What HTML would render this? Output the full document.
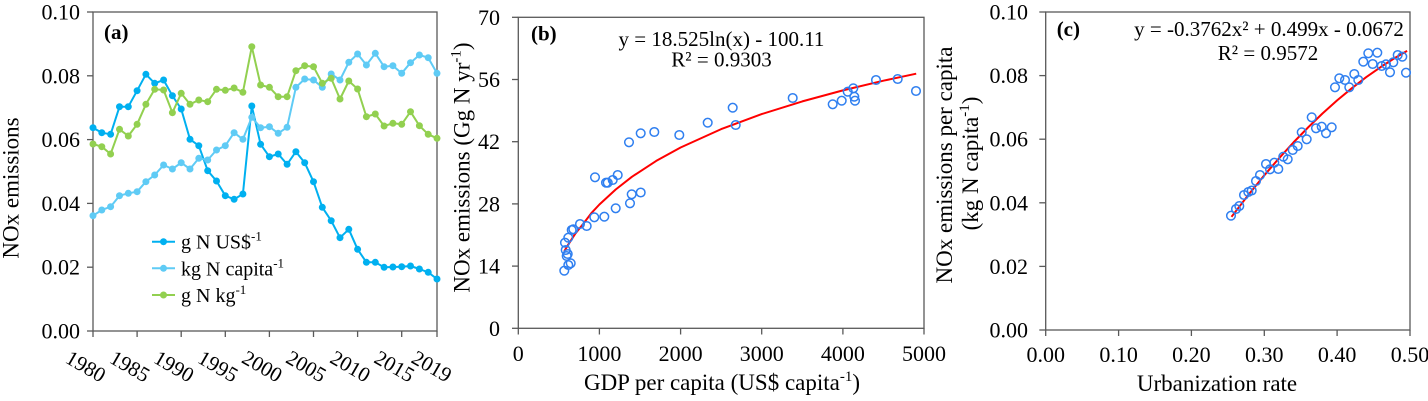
<!DOCTYPE html>
<html>
<head>
<meta charset="utf-8">
<style>
  html,body{margin:0;padding:0;background:#fff;}
  svg{display:block;}
  text{font-family:"Liberation Serif","Times New Roman",serif;fill:#000;}
</style>
</head>
<body>
<svg width="1428" height="401" viewBox="0 0 1428 401" xmlns="http://www.w3.org/2000/svg" font-family="'Liberation Serif', serif">
  <defs>
    <marker id="m1" markerWidth="10" markerHeight="10" refX="5" refY="5" markerUnits="userSpaceOnUse"><circle cx="5" cy="5" r="3.5" fill="#00B0F0"/></marker>
    <marker id="m2" markerWidth="10" markerHeight="10" refX="5" refY="5" markerUnits="userSpaceOnUse"><circle cx="5" cy="5" r="3.5" fill="#5FCBF5"/></marker>
    <marker id="m3" markerWidth="10" markerHeight="10" refX="5" refY="5" markerUnits="userSpaceOnUse"><circle cx="5" cy="5" r="3.5" fill="#92D050"/></marker>
  </defs>
  <rect width="1428" height="401" fill="#fff"/>

  <!-- ================= Panel (a) ================= -->
  <g stroke="#595959" stroke-width="1.3" fill="none">
    <rect x="93" y="12" width="344" height="319"/>
    <line x1="87" y1="12" x2="93" y2="12"/>
    <line x1="87" y1="75.8" x2="93" y2="75.8"/>
    <line x1="87" y1="139.6" x2="93" y2="139.6"/>
    <line x1="87" y1="203.4" x2="93" y2="203.4"/>
    <line x1="87" y1="267.2" x2="93" y2="267.2"/>
    <line x1="87" y1="331" x2="93" y2="331"/>
    <line x1="93" y1="331" x2="93" y2="337"/>
    <line x1="137.1" y1="331" x2="137.1" y2="337"/>
    <line x1="181.2" y1="331" x2="181.2" y2="337"/>
    <line x1="225.3" y1="331" x2="225.3" y2="337"/>
    <line x1="269.4" y1="331" x2="269.4" y2="337"/>
    <line x1="313.5" y1="331" x2="313.5" y2="337"/>
    <line x1="357.6" y1="331" x2="357.6" y2="337"/>
    <line x1="401.7" y1="331" x2="401.7" y2="337"/>
    <line x1="437" y1="331" x2="437" y2="337"/>
  </g>
  <g font-size="22" text-anchor="end">
    <text x="80" y="19.5">0.10</text>
    <text x="80" y="83.3">0.08</text>
    <text x="80" y="147.1">0.06</text>
    <text x="80" y="210.9">0.04</text>
    <text x="80" y="274.7">0.02</text>
    <text x="80" y="338.5">0.00</text>
  </g>
  <g font-size="21" text-anchor="middle">
    <text transform="translate(86,366) rotate(30)" dy="0.35em">1980</text>
    <text transform="translate(130.1,366) rotate(30)" dy="0.35em">1985</text>
    <text transform="translate(174.2,366) rotate(30)" dy="0.35em">1990</text>
    <text transform="translate(218.3,366) rotate(30)" dy="0.35em">1995</text>
    <text transform="translate(262.4,366) rotate(30)" dy="0.35em">2000</text>
    <text transform="translate(306.5,366) rotate(30)" dy="0.35em">2005</text>
    <text transform="translate(350.6,366) rotate(30)" dy="0.35em">2010</text>
    <text transform="translate(394.7,366) rotate(30)" dy="0.35em">2015</text>
    <text transform="translate(432,366) rotate(30)" dy="0.35em">2019</text>
  </g>
  <text transform="translate(18.5,188) rotate(-90)" font-size="23" text-anchor="middle">NOx emissions</text>
  <text x="104" y="39" font-size="21" font-weight="bold">(a)</text>

  <polyline fill="none" stroke="#00B0F0" stroke-width="2" stroke-linejoin="round"
    marker-start="url(#m1)" marker-mid="url(#m1)" marker-end="url(#m1)"
    points="93,127.7 101.8,132.7 110.6,134.3 119.5,106.7 128.3,106.7 137.1,90.7 145.9,74.3 154.7,83.3 163.6,80 172.4,95.7 181.2,109 190,139.3 198.8,145.7 207.7,170.7 216.5,181 225.3,195.7 234.1,199.3 242.9,194 251.8,106 260.6,144.3 269.4,156.7 278.2,154 287.1,164.3 295.9,151.7 304.7,162.7 313.5,181.7 322.3,207.3 331.2,220.7 340,237.7 348.8,229.3 357.6,249.3 366.4,262.3 375.3,262.3 384.1,267.3 392.9,267 401.7,266.7 410.5,266 419.4,269 428.2,272.3 437,279"/>
  <polyline fill="none" stroke="#5FCBF5" stroke-width="2" stroke-linejoin="round"
    marker-start="url(#m2)" marker-mid="url(#m2)" marker-end="url(#m2)"
    points="93,215.7 101.8,210 110.6,206.7 119.5,195.7 128.3,193.3 137.1,191.7 145.9,181.7 154.7,175 163.6,165 172.4,169 181.2,162.7 190,169 198.8,158.3 207.7,160 216.5,150 225.3,145.7 234.1,132.7 242.9,139.3 251.8,117.3 260.6,127.7 269.4,126.7 278.2,133.3 287.1,127.3 295.9,87.3 304.7,79 313.5,80 322.3,87.3 331.2,74 340,80 348.8,62.3 357.6,54 366.4,65 375.3,53.3 384.1,66.7 392.9,65.7 401.7,73.3 410.5,62.7 419.4,55 428.2,57.7 437,73.3"/>
  <polyline fill="none" stroke="#92D050" stroke-width="2" stroke-linejoin="round"
    marker-start="url(#m3)" marker-mid="url(#m3)" marker-end="url(#m3)"
    points="93,144 101.8,146.7 110.6,154 119.5,129.3 128.3,136 137.1,124.3 145.9,104.3 154.7,89.3 163.6,90 172.4,112.7 181.2,93.3 190,104.3 198.8,100 207.7,101.7 216.5,89.3 225.3,90.3 234.1,88 242.9,92.3 251.8,46.7 260.6,85 269.4,87.3 278.2,96.7 287.1,96.7 295.9,70.7 304.7,65.7 313.5,66.7 322.3,83.3 331.2,78.3 340,99 348.8,81 357.6,89 366.4,116.7 375.3,114 384.1,126 392.9,123.3 401.7,124.3 410.5,111.7 419.4,125.7 428.2,134.3 437,138.3"/>

  <g stroke-width="2">
    <line x1="152" y1="241.7" x2="175" y2="241.7" stroke="#00B0F0"/>
    <line x1="152" y1="268.3" x2="175" y2="268.3" stroke="#5FCBF5"/>
    <line x1="152" y1="295" x2="175" y2="295" stroke="#92D050"/>
  </g>
  <circle cx="163.5" cy="241.7" r="3.5" fill="#00B0F0"/>
  <circle cx="163.5" cy="268.3" r="3.5" fill="#5FCBF5"/>
  <circle cx="163.5" cy="295" r="3.5" fill="#92D050"/>
  <g font-size="20">
    <text x="181" y="248.7">g N US$<tspan font-size="13" dy="-8">-1</tspan></text>
    <text x="181" y="275.3">kg N capita<tspan font-size="13" dy="-8">-1</tspan></text>
    <text x="181" y="302">g N kg<tspan font-size="13" dy="-8">-1</tspan></text>
  </g>

  <!-- ================= Panel (b) ================= -->
  <g stroke="#595959" stroke-width="1.3" fill="none">
    <rect x="518.3" y="17.3" width="405.7" height="311"/>
    <line x1="512" y1="17.3" x2="518.3" y2="17.3"/>
    <line x1="512" y1="79.5" x2="518.3" y2="79.5"/>
    <line x1="512" y1="141.7" x2="518.3" y2="141.7"/>
    <line x1="512" y1="203.9" x2="518.3" y2="203.9"/>
    <line x1="512" y1="266.1" x2="518.3" y2="266.1"/>
    <line x1="512" y1="328.3" x2="518.3" y2="328.3"/>
    <line x1="518.3" y1="328.3" x2="518.3" y2="334.5"/>
    <line x1="599.4" y1="328.3" x2="599.4" y2="334.5"/>
    <line x1="680.6" y1="328.3" x2="680.6" y2="334.5"/>
    <line x1="761.7" y1="328.3" x2="761.7" y2="334.5"/>
    <line x1="842.9" y1="328.3" x2="842.9" y2="334.5"/>
    <line x1="924" y1="328.3" x2="924" y2="334.5"/>
  </g>
  <g font-size="22" text-anchor="end">
    <text x="500" y="24.8">70</text>
    <text x="500" y="87">56</text>
    <text x="500" y="149.2">42</text>
    <text x="500" y="211.4">28</text>
    <text x="500" y="273.6">14</text>
    <text x="500" y="335.8">0</text>
  </g>
  <g font-size="22" text-anchor="middle">
    <text x="518.3" y="361">0</text>
    <text x="599.4" y="361">1000</text>
    <text x="680.6" y="361">2000</text>
    <text x="761.7" y="361">3000</text>
    <text x="842.9" y="361">4000</text>
    <text x="924" y="361">5000</text>
  </g>
  <text transform="translate(469.5,167.5) rotate(-90)" font-size="23" text-anchor="middle">NOx emissions (Gg N yr<tspan font-size="15" dy="-9">-1</tspan><tspan dy="9">)</tspan></text>
  <text x="722" y="390" font-size="23" text-anchor="middle">GDP per capita (US$ capita<tspan font-size="15" dy="-9">-1</tspan><tspan dy="9">)</tspan></text>
  <text x="531" y="40.5" font-size="21" font-weight="bold">(b)</text>
  <text x="721.5" y="46" font-size="21" text-anchor="middle">y = 18.525ln(x) - 100.11</text>
  <text x="721.5" y="66.7" font-size="21" text-anchor="middle">R² = 0.9303</text>

  <polyline fill="none" stroke="#FF0000" stroke-width="2" stroke-linejoin="round"
    points="564.3,251.3 567,246.6 575.1,233.9 583.2,223.9 591.3,213.2 599.4,204.5 615.7,189.5 631.9,176.8 656.2,160.9 680.6,147.5 721.2,129.1 761.7,114.1 802.3,101.4 842.9,90.4 883.4,80.7 916.2,73.7"/>
  <g fill="none" stroke="#2F7FF0" stroke-width="1.5">
    <circle cx="595" cy="177.3" r="4.3"/>
    <circle cx="606" cy="182.7" r="4.3"/>
    <circle cx="607.7" cy="182.7" r="4.3"/>
    <circle cx="612.7" cy="180" r="4.3"/>
    <circle cx="617.7" cy="175" r="4.3"/>
    <circle cx="629" cy="142.3" r="4.3"/>
    <circle cx="640.7" cy="133.3" r="4.3"/>
    <circle cx="654.3" cy="132" r="4.3"/>
    <circle cx="631.7" cy="194.3" r="4.3"/>
    <circle cx="640.7" cy="192.5" r="4.3"/>
    <circle cx="679.3" cy="135" r="4.3"/>
    <circle cx="707.7" cy="122.7" r="4.3"/>
    <circle cx="732.7" cy="107.7" r="4.3"/>
    <circle cx="735.7" cy="125" r="4.3"/>
    <circle cx="792.7" cy="98" r="4.3"/>
    <circle cx="832.7" cy="104.3" r="4.3"/>
    <circle cx="841.7" cy="100.7" r="4.3"/>
    <circle cx="847.7" cy="91.7" r="4.3"/>
    <circle cx="853.3" cy="88.3" r="4.3"/>
    <circle cx="854.3" cy="96.7" r="4.3"/>
    <circle cx="855" cy="100.7" r="4.3"/>
    <circle cx="876" cy="80" r="4.3"/>
    <circle cx="897.7" cy="79" r="4.3"/>
    <circle cx="916" cy="91" r="4.3"/>
    <circle cx="630" cy="203.3" r="4.3"/>
    <circle cx="615.7" cy="208.3" r="4.3"/>
    <circle cx="604.3" cy="216.7" r="4.3"/>
    <circle cx="594.3" cy="217.3" r="4.3"/>
    <circle cx="586.7" cy="226" r="4.3"/>
    <circle cx="580" cy="224" r="4.3"/>
    <circle cx="573.3" cy="229.3" r="4.3"/>
    <circle cx="571.7" cy="230" r="4.3"/>
    <circle cx="568.3" cy="237.7" r="4.3"/>
    <circle cx="565" cy="242.7" r="4.3"/>
    <circle cx="565.7" cy="250" r="4.3"/>
    <circle cx="567.7" cy="254" r="4.3"/>
    <circle cx="566.7" cy="256" r="4.3"/>
    <circle cx="570.7" cy="263.3" r="4.3"/>
    <circle cx="568.3" cy="265" r="4.3"/>
    <circle cx="564.3" cy="270.7" r="4.3"/>
  </g>

  <!-- ================= Panel (c) ================= -->
  <g stroke="#595959" stroke-width="1.3" fill="none">
    <rect x="1045.7" y="12" width="364.3" height="318"/>
    <line x1="1039.3" y1="12" x2="1045.7" y2="12"/>
    <line x1="1039.3" y1="75.6" x2="1045.7" y2="75.6"/>
    <line x1="1039.3" y1="139.2" x2="1045.7" y2="139.2"/>
    <line x1="1039.3" y1="202.8" x2="1045.7" y2="202.8"/>
    <line x1="1039.3" y1="266.4" x2="1045.7" y2="266.4"/>
    <line x1="1039.3" y1="330" x2="1045.7" y2="330"/>
    <line x1="1045.7" y1="330" x2="1045.7" y2="336"/>
    <line x1="1118.6" y1="330" x2="1118.6" y2="336"/>
    <line x1="1191.4" y1="330" x2="1191.4" y2="336"/>
    <line x1="1264.3" y1="330" x2="1264.3" y2="336"/>
    <line x1="1337.1" y1="330" x2="1337.1" y2="336"/>
    <line x1="1410" y1="330" x2="1410" y2="336"/>
  </g>
  <g font-size="22" text-anchor="end">
    <text x="1028" y="19.5">0.10</text>
    <text x="1028" y="83.1">0.08</text>
    <text x="1028" y="146.7">0.06</text>
    <text x="1028" y="210.3">0.04</text>
    <text x="1028" y="273.9">0.02</text>
    <text x="1028" y="337.5">0.00</text>
  </g>
  <g font-size="22" text-anchor="middle">
    <text x="1045.7" y="362">0.00</text>
    <text x="1118.6" y="362">0.10</text>
    <text x="1191.4" y="362">0.20</text>
    <text x="1264.3" y="362">0.30</text>
    <text x="1337.1" y="362">0.40</text>
    <text x="1410" y="362">0.50</text>
  </g>
  <text transform="translate(952,165) rotate(-90)" font-size="23" text-anchor="middle">NOx emissions per capita</text>
  <text transform="translate(978,163.5) rotate(-90)" font-size="23" text-anchor="middle">(kg N capita<tspan font-size="15" dy="-9">-1</tspan><tspan dy="9">)</tspan></text>
  <text x="1217" y="391" font-size="23" text-anchor="middle">Urbanization rate</text>
  <text x="1056.7" y="36" font-size="21" font-weight="bold">(c)</text>
  <text x="1269" y="36" font-size="21" text-anchor="middle">y = -0.3762x² + 0.499x - 0.0672</text>
  <text x="1268" y="60" font-size="21" text-anchor="middle">R² = 0.9572</text>

  <polyline fill="none" stroke="#FF0000" stroke-width="2" stroke-linejoin="round"
    points="1231.5,216.8 1249.7,193.2 1264.3,175.3 1278.9,158.4 1293.4,142.5 1308,127.5 1322.6,113.4 1337.1,100.4 1351.7,88.3 1366.3,77.1 1380.9,66.9 1395.4,57.6 1407.1,50.9"/>
  <g fill="none" stroke="#2F7FF0" stroke-width="1.5">
    <circle cx="1231" cy="215.7" r="4.3"/>
    <circle cx="1236" cy="209" r="4.3"/>
    <circle cx="1239.3" cy="206" r="4.3"/>
    <circle cx="1244" cy="195" r="4.3"/>
    <circle cx="1248.3" cy="192" r="4.3"/>
    <circle cx="1251.7" cy="190.5" r="4.3"/>
    <circle cx="1256" cy="181" r="4.3"/>
    <circle cx="1260" cy="175" r="4.3"/>
    <circle cx="1266" cy="164" r="4.3"/>
    <circle cx="1270" cy="169.3" r="4.3"/>
    <circle cx="1274.3" cy="162.7" r="4.3"/>
    <circle cx="1278.3" cy="169" r="4.3"/>
    <circle cx="1283.3" cy="156.7" r="4.3"/>
    <circle cx="1287.7" cy="159.3" r="4.3"/>
    <circle cx="1292.7" cy="150" r="4.3"/>
    <circle cx="1297.7" cy="146" r="4.3"/>
    <circle cx="1301.7" cy="132.3" r="4.3"/>
    <circle cx="1306.7" cy="139.3" r="4.3"/>
    <circle cx="1311.7" cy="117.3" r="4.3"/>
    <circle cx="1316" cy="128.3" r="4.3"/>
    <circle cx="1321.7" cy="126.7" r="4.3"/>
    <circle cx="1326" cy="133.3" r="4.3"/>
    <circle cx="1331.7" cy="127.3" r="4.3"/>
    <circle cx="1335" cy="87.3" r="4.3"/>
    <circle cx="1339.3" cy="78.3" r="4.3"/>
    <circle cx="1345" cy="80" r="4.3"/>
    <circle cx="1349.3" cy="87.3" r="4.3"/>
    <circle cx="1354.3" cy="74" r="4.3"/>
    <circle cx="1358.3" cy="80" r="4.3"/>
    <circle cx="1363.3" cy="61.7" r="4.3"/>
    <circle cx="1368.3" cy="53.3" r="4.3"/>
    <circle cx="1372.7" cy="64" r="4.3"/>
    <circle cx="1377.3" cy="52.7" r="4.3"/>
    <circle cx="1381.7" cy="66" r="4.3"/>
    <circle cx="1386" cy="64.3" r="4.3"/>
    <circle cx="1390" cy="72.3" r="4.3"/>
    <circle cx="1393.3" cy="62.3" r="4.3"/>
    <circle cx="1397.7" cy="55" r="4.3"/>
    <circle cx="1402.3" cy="56.7" r="4.3"/>
    <circle cx="1406" cy="72.7" r="4.3"/>
  </g>
</svg>
</body>
</html>
